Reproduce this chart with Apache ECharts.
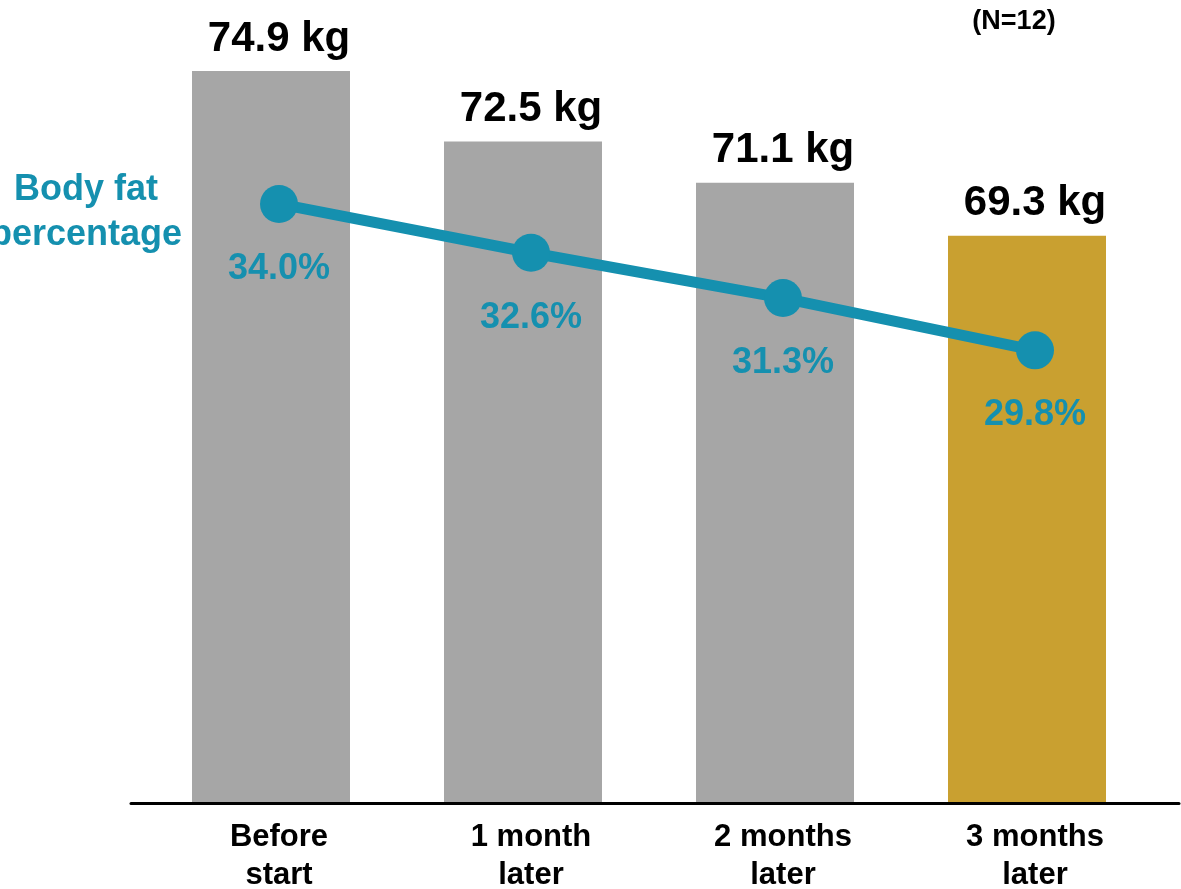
<!DOCTYPE html>
<html>
<head>
<meta charset="utf-8">
<script src="https://cdn.jsdelivr.net/npm/echarts@6/dist/echarts.min.js"></script>
<style>
  html, body { margin: 0; padding: 0; background: #ffffff; }
  #chart { width: 1181px; height: 889px; }
</style>
</head>
<body>
<div id="chart"></div>
<script>
// Average body weight and body fat over three months (N=12)
const categories = ['Before\nstart', '1 month\nlater', '2 months\nlater', '3 months\nlater'];
const weightKg = [74.9, 72.5, 71.1, 69.3];
const bodyFatPct = [34.0, 32.6, 31.3, 29.8];
const sampleNote = '(N=12)';
const lineTitle = 'Body fat\npercentage';

const FONT = '"Liberation Sans", Arial, Helvetica, sans-serif';
const GRAY = '#a6a6a6';
const GOLD = '#c9a030';
const TEAL = '#1590af';

const chart = echarts.init(document.getElementById('chart'), null, { renderer: 'canvas' });

const gridTop = 68;
const gridBottom = 85.5;

chart.setOption({
  animation: false,
  backgroundColor: '#ffffff',
  textStyle: { fontFamily: FONT },
  grid: [
    { left: 145, width: 1008, top: gridTop, bottom: gridBottom, outerBoundsMode: 'none', containLabel: false },   // bars
    { left: 153, width: 1008, top: gridTop, bottom: gridBottom, outerBoundsMode: 'none', containLabel: false },   // fat line + category labels
    { left: 131, right: 2, top: gridTop, bottom: gridBottom, outerBoundsMode: 'none', containLabel: false }       // baseline rule
  ],
  xAxis: [
    { type: 'category', gridIndex: 0, data: categories, show: false },
    {
      type: 'category', gridIndex: 1, data: categories,
      axisLine: { show: false }, axisTick: { show: false },
      axisLabel: {
        margin: 15, color: '#000000', fontFamily: FONT,
        fontSize: 31, fontWeight: 'bold', lineHeight: 38
      }
    },
    {
      type: 'category', gridIndex: 2, data: categories, z: 5,
      axisLine: { show: true, lineStyle: { color: '#000000', width: 3 } },
      axisTick: { show: false }, axisLabel: { show: false }
    }
  ],
  yAxis: [
    { type: 'value', gridIndex: 0, min: 50, max: 75, show: false, splitLine: { show: false } },
    { type: 'value', gridIndex: 1, min: 16.8, max: 37.9, show: false, splitLine: { show: false } },
    { type: 'value', gridIndex: 2, min: 0, max: 1, show: false, splitLine: { show: false } }
  ],
  graphic: [
    {
      type: 'text', x: 86, y: 168,
      style: {
        text: lineTitle, fill: TEAL, font: 'bold 36px ' + FONT,
        align: 'center', verticalAlign: 'top', lineHeight: 45
      }
    },
    {
      type: 'text', x: 1014, y: 8,
      style: {
        text: sampleNote, fill: '#000000', font: 'bold 27px ' + FONT,
        align: 'center', verticalAlign: 'top'
      }
    }
  ],
  series: [
    {
      type: 'bar',
      xAxisIndex: 0, yAxisIndex: 0,
      data: weightKg,
      barWidth: 158,
      itemStyle: {
        color: (p) => (p.dataIndex === weightKg.length - 1 ? GOLD : GRAY)
      },
      label: {
        show: true, position: 'top', distance: 11, offset: [8, 0],
        color: '#000000', fontFamily: FONT, fontSize: 42, fontWeight: 'bold', lineHeight: 42,
        formatter: (p) => p.value.toFixed(1) + ' kg'
      }
    },
    {
      type: 'line',
      xAxisIndex: 1, yAxisIndex: 1,
      data: bodyFatPct,
      symbol: 'circle', symbolSize: 38,
      lineStyle: { color: TEAL, width: 11 },
      itemStyle: { color: TEAL },
      label: {
        show: true, position: 'bottom', distance: 28,
        color: TEAL, fontFamily: FONT, fontSize: 36, fontWeight: 'bold', lineHeight: 36,
        formatter: (p) => p.value.toFixed(1) + '%'
      }
    }
  ]
});
</script>
</body>
</html>
